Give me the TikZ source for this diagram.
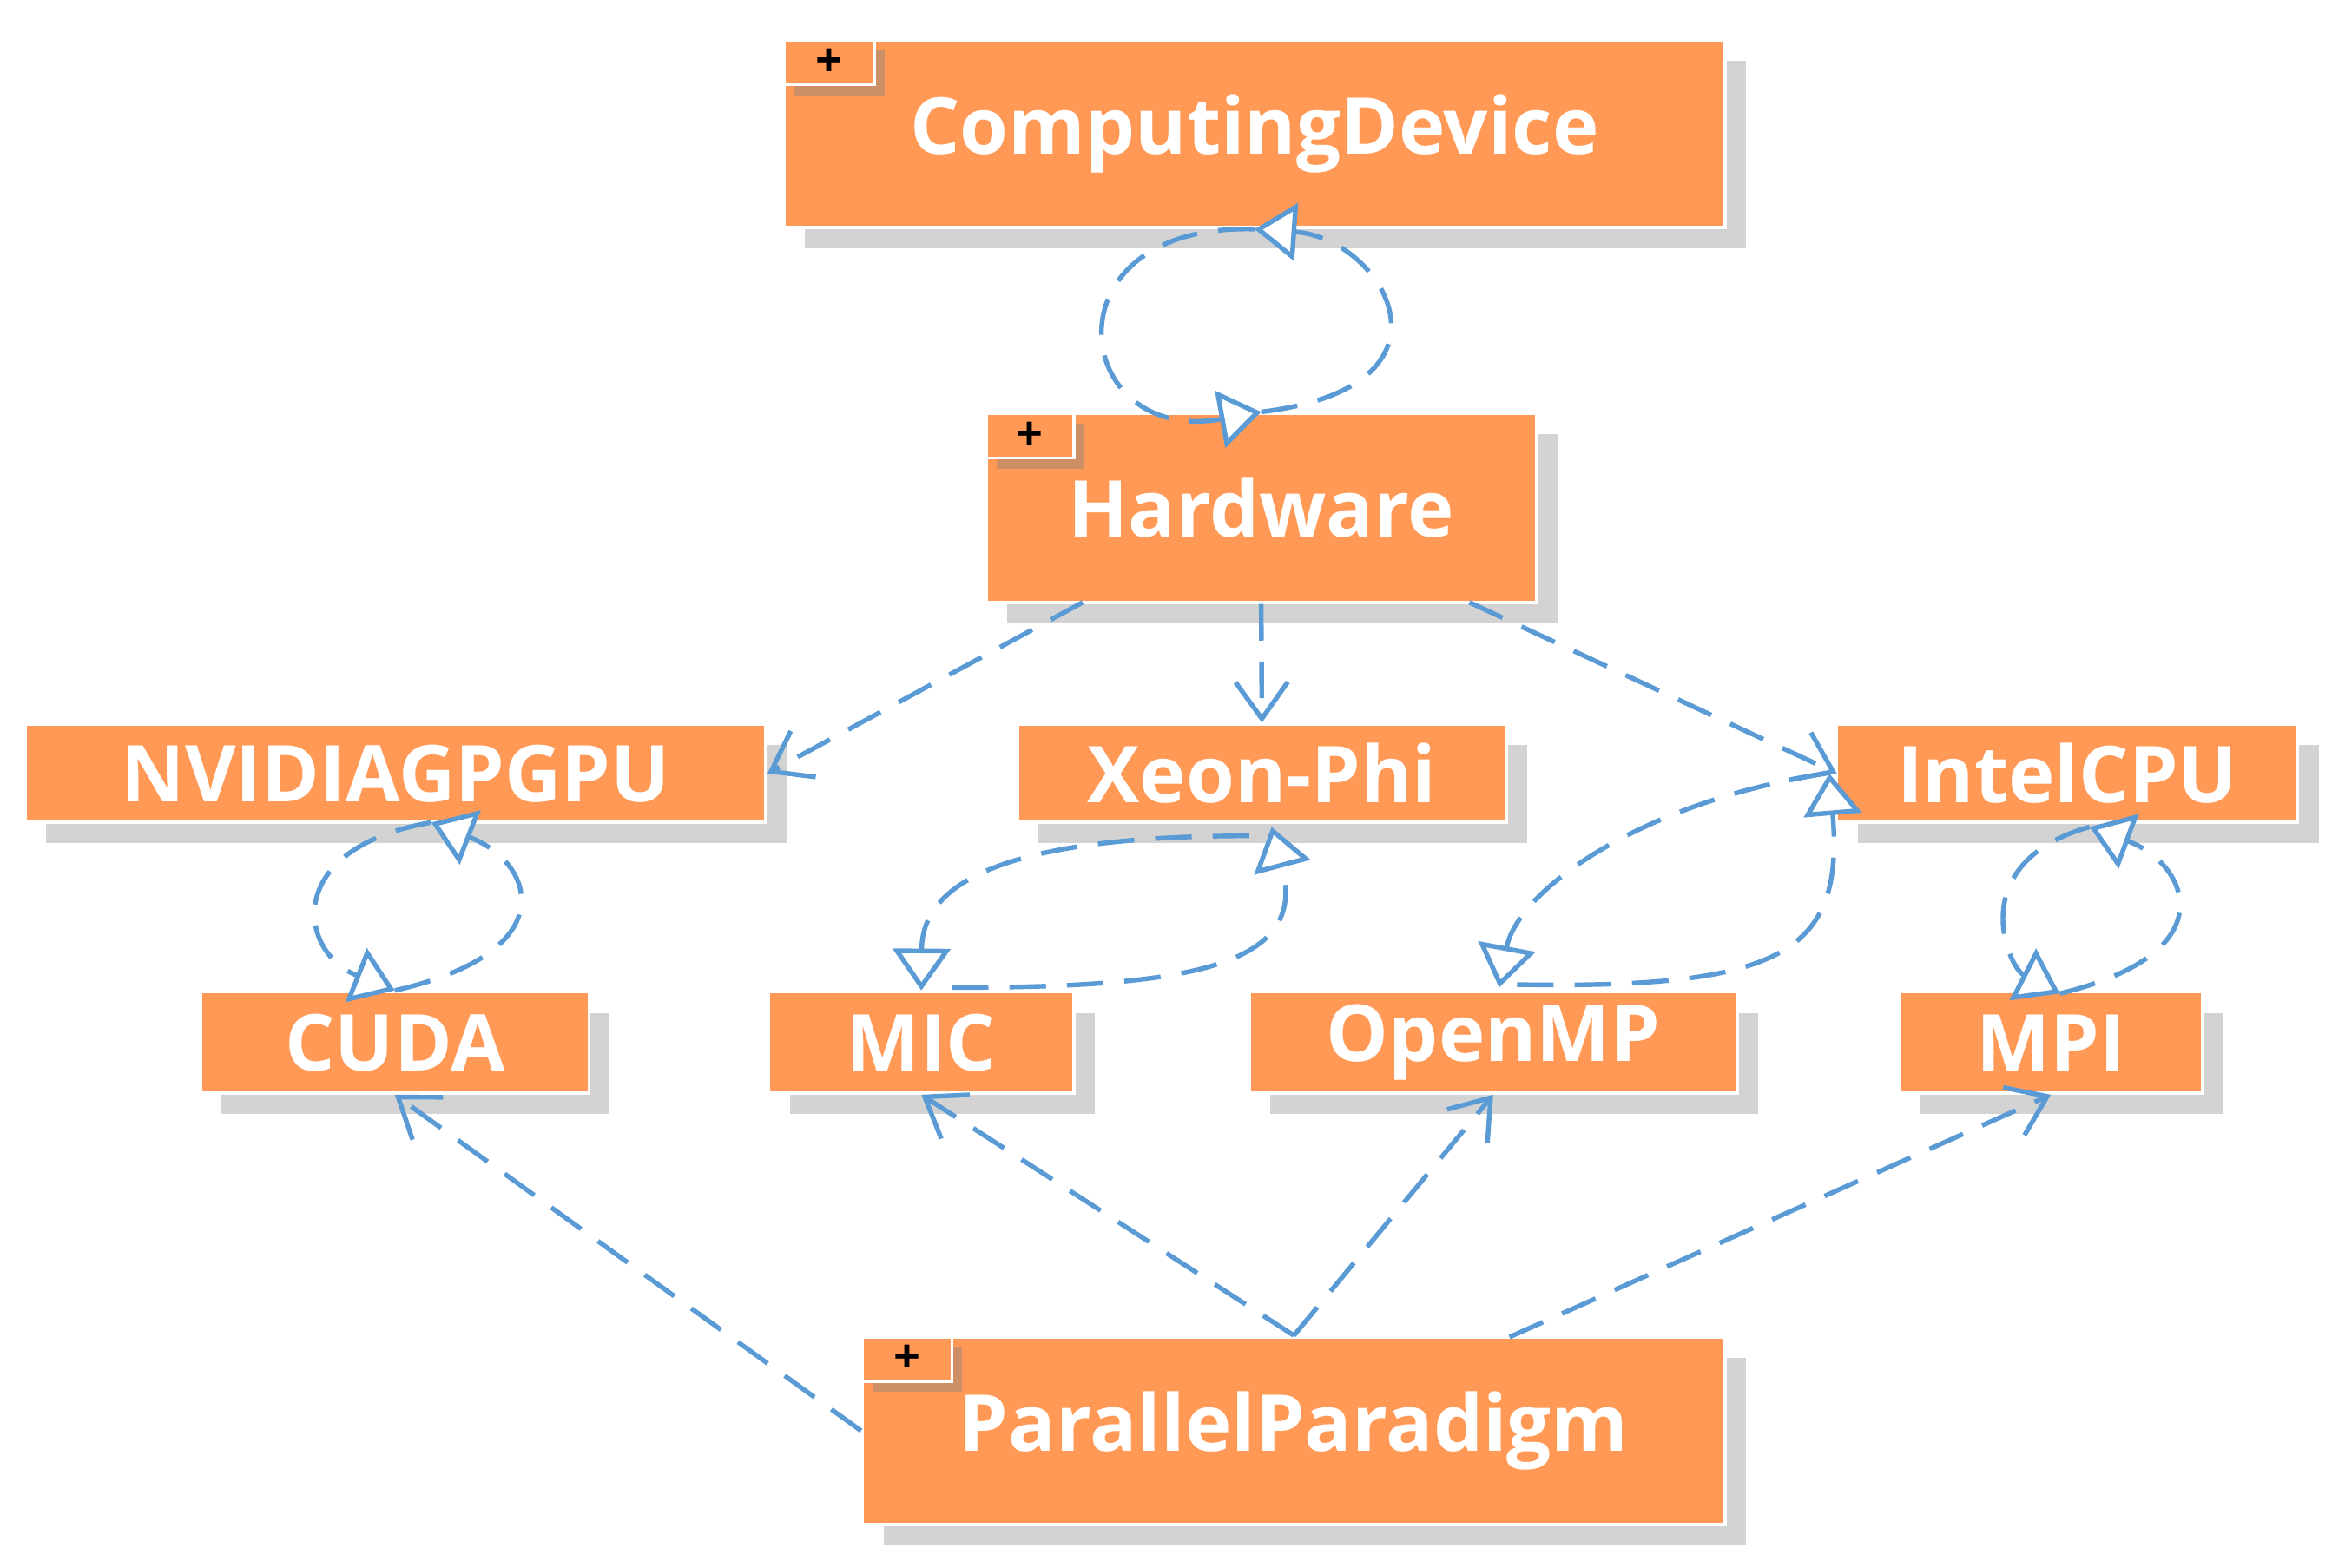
\documentclass[tikz,border=0pt]{standalone}
\usepackage{fontspec}
\setmainfont{Open Sans}
\usetikzlibrary{arrows.meta,shadows}
\definecolor{box}{HTML}{FF9955}
\definecolor{ln}{HTML}{5B9BD5}
\begin{document}
\begin{tikzpicture}[x=0.01cm,y=-0.01cm,
  box/.style={fill=box,draw=white,line width=0.6pt,drop shadow={shadow xshift=4pt,shadow yshift=-4pt,opacity=0.35},text=white,font=\fontsize{15}{18}\selectfont\bfseries,inner sep=0pt},
  tab/.style={fill=box,draw=white,line width=0.6pt,drop shadow={shadow xshift=2pt,shadow yshift=-2pt,opacity=0.4},font=\fontsize{9}{10}\selectfont\bfseries,inner sep=0pt},
  dep/.style={draw=ln,line width=0.9pt,dash pattern=on 7pt off 4pt,-{Straight Barb[length=7pt,width=10pt,line width=0.9pt]}},
  real/.style={draw=ln,line width=0.9pt,dash pattern=on 7pt off 4pt,-{Triangle[open,length=8pt,width=11pt,line width=0.9pt,fill=white]}}]
\useasboundingbox (0,0) rectangle (1568,1054);
\def\bx#1#2#3#4#5#6{\node[box,minimum width=#4*0.01cm-0pt,minimum height=#5*0.01cm] (#1) at (#2,#3) {#6};}
\bx{cd}{843.5}{90}{633}{126}{ComputingDevice}
\bx{hw}{848}{341.5}{370}{127}{Hardware}
\bx{nv}{266}{520}{498}{66}{NVIDIAGPGPU}
\bx{xp}{848.5}{520}{329}{66}{Xeon-Phi}
\bx{ic}{1390}{520}{310}{66}{IntelCPU}
\bx{cu}{265.5}{701}{261}{68}{CUDA}
\bx{mic}{619.5}{701}{205}{68}{MIC}
\bx{om}{1004}{701}{328}{68}{OpenMP}
\bx{mpi}{1379}{701}{204}{68}{MPI}
\bx{pp}{870}{962}{580}{126}{ParallelParadigm}
\node[tab,minimum width=0.61cm,minimum height=0.3cm] (t1) at (557.5,42) {+};
\node[tab,minimum width=0.59cm,minimum height=0.3cm] (t2) at (692.5,293) {+};
\node[tab,minimum width=0.6cm,minimum height=0.3cm] (t3) at (610,914) {+};
% CD - Hardware loop
\draw[real] (cd.south) .. controls (700,150) and (720,300) .. (hw.north);
\draw[real] (hw.north) .. controls (990,260) and (930,160) .. (cd.south);
% Hardware deps
\draw[dep] (728,405) -- (nv.east);
\draw[dep] (hw.south) -- (xp.north);
\draw[dep] (988,405) -- (1235,520);
% NVIDIA - CUDA
\draw[real] (290,553) .. controls (190,570) and (200,640) .. (cu.north);
\draw[real] (cu.north) .. controls (380,640) and (360,580) .. (290,553);
% Xeon - MIC
\draw[real] (840,562) .. controls (660,562) and (620,600) .. (mic.north);
\draw[real] (640,664) .. controls (800,664) and (880,650) .. (855,556);
% IntelCPU - OpenMP
\draw[real] (1228,520) .. controls (1100,540) and (1020,600) .. (1008,664);
\draw[real] (1020,662) .. controls (1200,665) and (1240,640) .. (1230,520);
% IntelCPU - MPI
\draw[real] (1405,556) .. controls (1320,580) and (1350,650) .. (1385,668);
\draw[real] (1385,668) .. controls (1500,640) and (1470,580) .. (1405,556);
% ParallelParadigm deps
\draw[dep] (pp.west) -- (cu.south);
\draw[dep] (pp.north) -- (mic.south);
\draw[dep] (pp.north) -- (om.south);
\draw[dep] (1015,899) -- (mpi.south);
\end{tikzpicture}
\end{document}
